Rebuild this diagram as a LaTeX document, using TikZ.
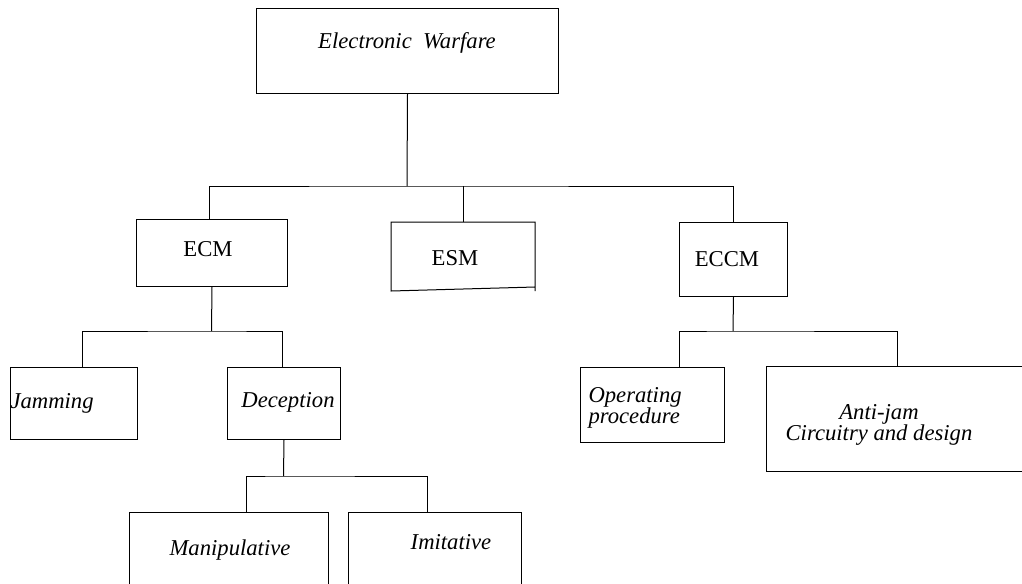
\documentclass[tikz,border=0pt]{standalone}
\usepackage{fontspec}
\setmainfont{Liberation Serif}
\begin{document}
\begin{tikzpicture}[x=0.75pt, y=-0.75pt, line width=0.75pt,
    font=\fontsize{17}{15.5}\selectfont,
    box/.style 2 args={draw, anchor=north west, inner sep=0pt,
        minimum width=#1*0.75pt, minimum height=#2*0.75pt},
    lbl/.style={inner sep=0pt, font=\fontsize{17}{15.5}\selectfont\itshape},
    lblup/.style={inner sep=0pt}]
    \useasboundingbox (0,0) rectangle (1022,583);
    \clip (0,0) rectangle (1022,583);

    % Boxes
    \node[box={302}{85}] (ew) at (256,8) {};
    \node[box={151}{67}] (ecm) at (136,219) {};
    \node[box={143}{68}, draw=none] (esm) at (391,222) {};
    \node[box={108}{74}] (eccm) at (679,222) {};
    \node[box={127}{72}] (jam) at (10,367) {};
    \node[box={113}{72}] (dec) at (227,367) {};
    \node[box={144}{75}] (opp) at (580,367) {};
    \node[box={262}{105}] (aj) at (766,366) {};
    \node[box={199}{100}] (man) at (129,512) {};
    \node[box={173}{100}] (imi) at (348,512) {};
    \draw (esm.south east) -- (esm.north east) -- (esm.north west)
        -- (esm.south west) -- ([yshift=3pt]esm.south east);

    % Labels
    \node[lbl] (tew) at (407,43) {Electronic~~Warfare};
    \node[lblup] (tecm) at (208,249) {ECM};
    \node[lblup] (tesm) at (455,258) {ESM};
    \node[lblup] (teccm) at (727,259) {ECCM};
    \node[lbl, anchor=west] (tjam) at (10,403) {Jamming};
    \node[lbl] (tdec) at (288,402) {Deception};
    \node[lbl, anchor=west, align=left] (topp) at (588,408) {Operating\\procedure};
    \node[lbl, align=center] (taj) at (879,425) {Anti-jam\\Circuitry and design};
    \node[lbl] (tman) at (230,550) {Manipulative};
    \node[lbl] (timi) at (451,542) {Imitative};

    % Connectors
    \coordinate (b1) at (407,186);
    \coordinate (b2) at (211.5,331);
    \coordinate (b3) at (283.5,476);
    \coordinate (b4) at (733,331);
    \draw (ew.south) -- (b1);
    \draw ([xshift=-2pt]ecm.north) |- (b1) -| (eccm.north);
    \draw (esm.north) -- (esm.north |- b1);
    \draw (ecm.south) -- (b2);
    \draw ([xshift=6pt]jam.north) |- (b2) -| ([xshift=-1pt]dec.north);
    \draw (dec.south) -- (b3);
    \draw ([xshift=13pt]man.north) |- (b3) -| ([xshift=-6pt]imi.north);
    \draw (eccm.south) -- (b4);
    \draw ([xshift=20pt]opp.north) |- (b4) -| (aj.north);
\end{tikzpicture}
\end{document}
